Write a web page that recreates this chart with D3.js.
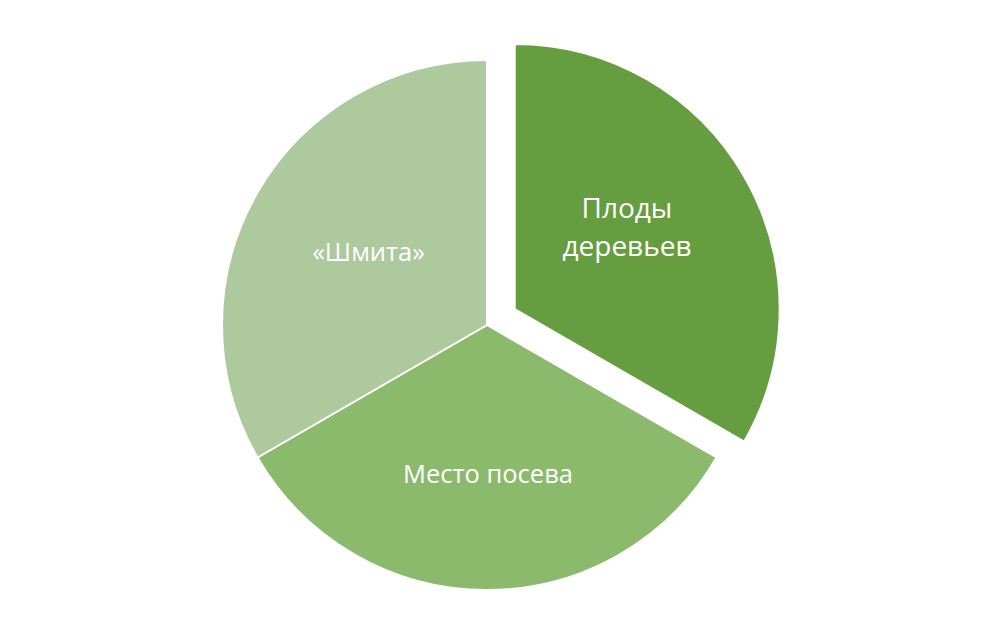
<!DOCTYPE html>
<html><head><meta charset="utf-8">
<script src="https://cdn.jsdelivr.net/npm/d3@7"></script>
<style>html,body{margin:0;padding:0;background:#fff;}svg{display:block;}</style>
</head><body>
<svg id="chart" width="1002" height="633"></svg>
<script>
const categories = ["Плоды деревьев", "Место посева", "«Шмита»"];
const values = [1, 1, 1];
const colors = ["#669D40", "#8BBA6D", "#ADC99D"];
const labelLines = [["Плоды", "деревьев"], ["Место посева"], ["«Шмита»"]];

// layout constants
const explode = [32, 0, 0];
const fontSizes = [28, 25.5, 25.5];
const labelRadius = [0.524, 0.5615, 0.525];
const labelNudge = [[-8, -12.6], [1, 0], [2, -4]];

const svg = d3.select("#chart");
const cx = 487, cy = 325, r = 265;
const data = categories.map((c, i) => ({ name: c, value: values[i], i }));
const pie = d3.pie().value(d => d.value).sort(null);
const arcs = pie(data);
const arc = d3.arc().innerRadius(0).outerRadius(r);

const g = svg.append("g").attr("transform", `translate(${cx},${cy})`);
const slices = g.selectAll("g.slice").data(arcs).enter().append("g")
  .attr("transform", d => {
    const a = (d.startAngle + d.endAngle) / 2;
    const e = explode[d.data.i];
    return `translate(${Math.sin(a) * e},${-Math.cos(a) * e})`;
  });
slices.append("path").attr("d", arc)
  .attr("fill", d => colors[d.data.i])
  .attr("stroke", "#fff").attr("stroke-width", 2).attr("stroke-linejoin", "round");

slices.each(function(d) {
  const i = d.data.i;
  const lr = r * labelRadius[i];
  const [cx0, cy0] = d3.arc().innerRadius(lr).outerRadius(lr).centroid(d);
  const lx = cx0 + labelNudge[i][0], ly = cy0 + labelNudge[i][1];
  const lines = labelLines[i];
  const fs = fontSizes[i];
  const lh = 38;
  const t = d3.select(this).append("text")
    .attr("text-anchor", "middle")
    .attr("font-family", "'Open Sans', sans-serif")
    .attr("font-size", fs)
    .attr("fill", "#fff");
  lines.forEach((ln, k) => {
    t.append("tspan").attr("x", lx)
      .attr("y", ly + (k - (lines.length - 1) / 2) * lh)
      .attr("dy", "0.36em").text(ln);
  });
});
</script>
</body></html>
